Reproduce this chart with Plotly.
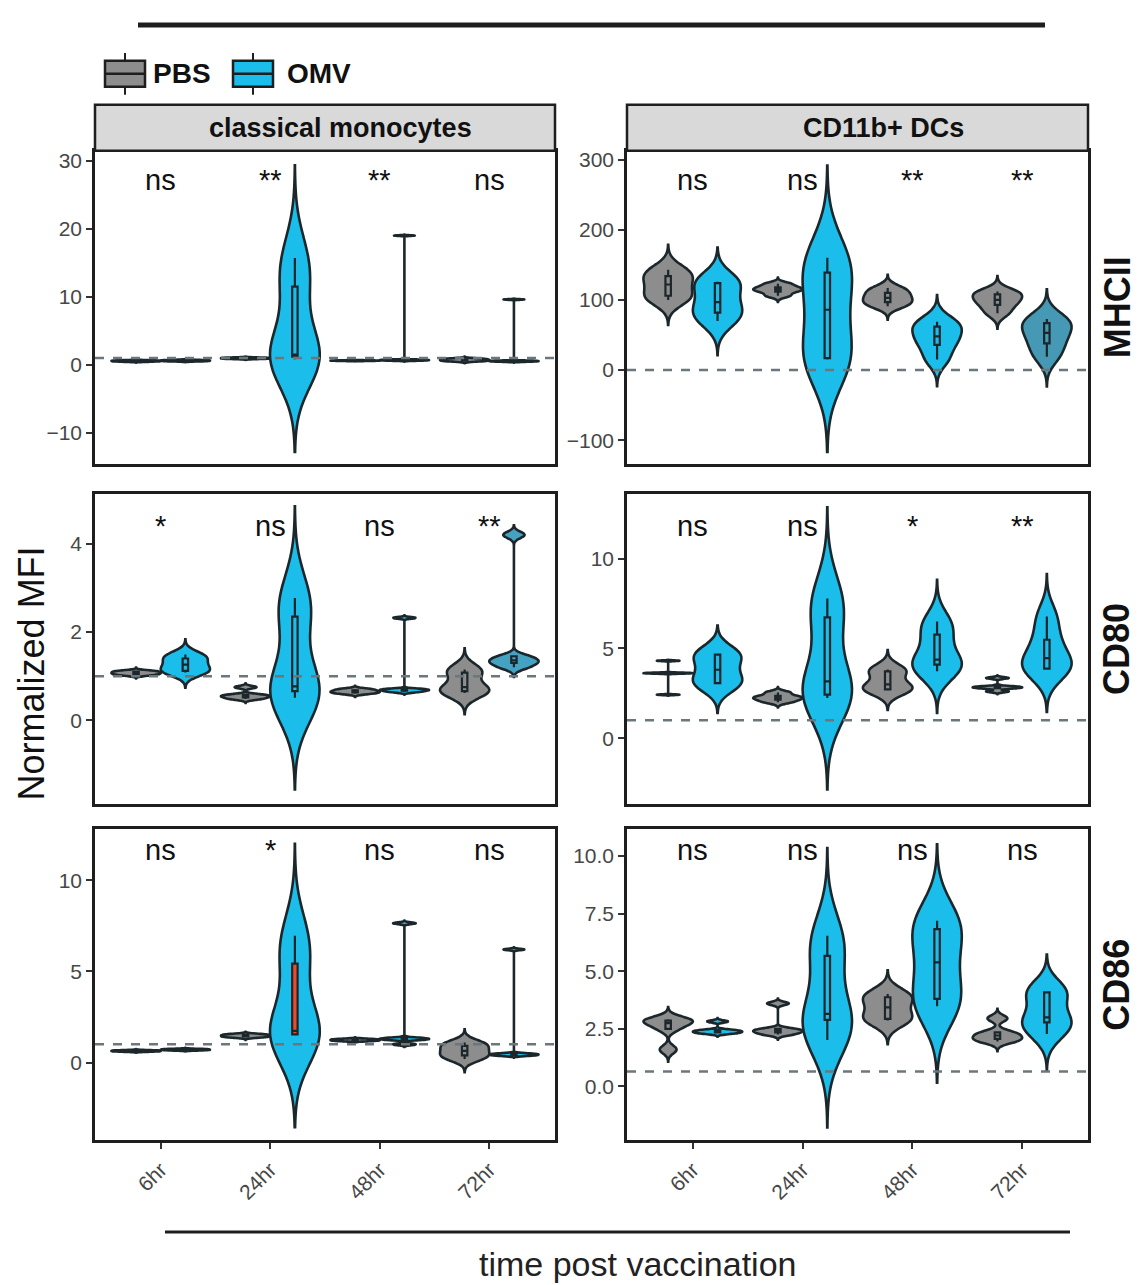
import numpy as np
import plotly.graph_objects as go

# ---------------- data ----------------
times = ["6hr", "24hr", "48hr", "72hr"]
groups = ["PBS", "OMV"]

# classical monocytes - MHCII
mono_mhcii_pbs = [[0.45, 0.50, 0.55, 0.60, 0.65], [0.85, 0.90, 0.95, 1.00, 1.05],
                  [0.55, 0.58, 0.60, 0.62, 0.65], [0.50, 0.60, 0.70, 0.80, 0.90]]
mono_mhcii_omv = [[0.50, 0.55, 0.60, 0.65, 0.70], [0.8, 1.2, 1.5, 11.5, 15.7],
                  [0.60, 0.65, 0.70, 0.75, 19.0], [0.45, 0.50, 0.55, 0.60, 9.6]]
# CD11b+ DCs - MHCII
dc_mhcii_pbs = [[100, 106, 122, 134, 143], [106, 112, 115, 118, 123],
                [91, 97, 103, 110, 117], [81, 93, 100, 108, 112]]
dc_mhcii_omv = [[70, 82, 97, 124, 126], [15, 17, 86, 139, 160],
                [15, 36, 48, 62, 69], [19, 38, 53, 67, 73]]
# classical monocytes - CD80
mono_cd80_pbs = [[1.02, 1.05, 1.07, 1.10, 1.12], [0.48, 0.52, 0.55, 0.58, 0.75],
                 [0.60, 0.63, 0.65, 0.68, 0.71], [0.62, 0.66, 0.75, 1.08, 1.15]]
mono_cd80_omv = [[1.08, 1.12, 1.26, 1.40, 1.49], [0.51, 0.66, 0.77, 2.35, 2.77],
                 [0.64, 0.67, 0.69, 0.71, 2.32], [1.20, 1.30, 1.36, 1.45, 4.20]]
# CD11b+ DCs - CD80
dc_cd80_pbs = [[2.42, 3.60, 3.62, 3.64, 4.31], [2.00, 2.15, 2.25, 2.35, 2.55],
               [2.65, 2.72, 3.00, 3.72, 3.82], [2.60, 2.78, 2.83, 2.88, 3.35]]
dc_cd80_omv = [[3.00, 3.07, 3.81, 4.65, 4.68], [2.23, 2.42, 3.16, 6.73, 7.77],
               [3.72, 4.09, 4.37, 5.76, 6.50], [3.81, 3.87, 4.46, 5.48, 6.78]]
# classical monocytes - CD86
mono_cd86_pbs = [[0.60, 0.62, 0.64, 0.66, 0.68], [1.38, 1.43, 1.47, 1.52, 1.56],
                 [1.18, 1.21, 1.24, 1.27, 1.30], [0.20, 0.40, 0.64, 0.92, 1.10]]
mono_cd86_omv = [[0.67, 0.69, 0.71, 0.73, 0.75], [1.50, 1.55, 1.74, 5.43, 6.95],
                 [1.00, 1.25, 1.30, 1.35, 7.64], [0.38, 0.42, 0.46, 0.50, 6.20]]
# CD11b+ DCs - CD86
dc_cd86_pbs = [[1.60, 2.50, 2.75, 2.86, 2.92], [2.25, 2.35, 2.42, 2.50, 3.60],
               [2.86, 2.93, 3.43, 3.87, 4.01], [1.95, 2.06, 2.21, 2.35, 2.95]]
dc_cd86_omv = [[2.30, 2.35, 2.40, 2.45, 2.82], [2.02, 2.89, 3.15, 5.67, 6.54],
               [3.48, 3.80, 5.38, 6.83, 7.19], [2.28, 2.78, 3.00, 4.08, 4.12]]

sig_mono_mhcii = ["ns", "**", "**", "ns"]
sig_dc_mhcii = ["ns", "ns", "**", "**"]
sig_mono_cd80 = ["*", "ns", "ns", "**"]
sig_dc_cd80 = ["ns", "ns", "*", "**"]
sig_mono_cd86 = ["ns", "*", "ns", "ns"]
sig_dc_cd86 = ["ns", "ns", "ns", "ns"]

ref_lines = [1, 0, 1, 1, 1, 0.65]

cell_types = ["classical monocytes", "CD11b+ DCs"]
markers = ["MHCII", "CD80", "CD86"]

# ---------------- layout helpers ----------------
W, H = 1142, 1285
def px(x): return x / W
def py(y): return 1 - y / H

FONT = "Liberation Sans, Arial, Helvetica, sans-serif"
PBS_FILL = "#8d8d8d"
OMV_FILL = "#1bbdea"
TEAL_FILL = "#4699b4"
OUTLINE = "#1c272c"
TICK_COL = "#474747"

col_px = [(95, 555), (627, 1088)]
row_px = [(148, 462), (492, 803), (828, 1140)]

panels = [
    dict(r=0, c=0, pbs=mono_mhcii_pbs, omv=mono_mhcii_omv, sig=sig_mono_mhcii, yr=[-14.6, 31.5], dt=10, fmt=""),
    dict(r=0, c=1, pbs=dc_mhcii_pbs, omv=dc_mhcii_omv, sig=sig_dc_mhcii, yr=[-133.7, 312.8], dt=100, fmt=""),
    dict(r=1, c=0, pbs=mono_cd80_pbs, omv=mono_cd80_omv, sig=sig_mono_cd80, yr=[-1.9, 5.13], dt=2, fmt=""),
    dict(r=1, c=1, pbs=dc_cd80_pbs, omv=dc_cd80_omv, sig=sig_dc_cd80, yr=[-3.67, 13.6], dt=5, fmt=""),
    dict(r=2, c=0, pbs=mono_cd86_pbs, omv=mono_cd86_omv, sig=sig_mono_cd86, yr=[-4.26, 12.8], dt=5, fmt=""),
    dict(r=2, c=1, pbs=dc_cd86_pbs, omv=dc_cd86_omv, sig=sig_dc_cd86, yr=[-2.34, 11.17], dt=2.5, fmt=".1f"),
]
# special fills seen in the picture: (panel, time index) -> fill
omv_fill_override = {(1, 3): TEAL_FILL, (2, 3): "#45a2c2"}
box_fill_override = {(4, 1): "#ef4a2a"}
sig_y_px = [177, 524, 849]


def nrd0(v):
    v = np.asarray(v, float)
    sd = v.std(ddof=1)
    q1, q3 = np.percentile(v, [25, 75])
    lo = min(sd, (q3 - q1) / 1.34)
    if lo <= 0:
        lo = sd
    return 0.9 * lo * len(v) ** -0.2


def label(x, y, text, size, **kw):
    d = dict(x=x, y=y, xref="paper", yref="paper", text=text, showarrow=False,
             xanchor="center", yanchor="middle",
             font=dict(family=FONT, size=size, color="#111"))
    d.update(kw)
    return d


fig = go.Figure()
annotations = []
shapes = []

for i, p in enumerate(panels):
    ax = "" if i == 0 else str(i + 1)
    xa, ya = "x" + ax, "y" + ax
    for gi, (gname, series) in enumerate([("PBS", p["pbs"]), ("OMV", p["omv"])]):
        for ti, vals in enumerate(series):
            bw = nrd0(vals)
            if gname == "PBS":
                fill = PBS_FILL
            else:
                fill = omv_fill_override.get((i, ti), OMV_FILL)
            bfill = box_fill_override.get((i, ti), fill) if gname == "OMV" else fill
            fig.add_trace(go.Violin(
                x=[times[ti]] * len(vals), y=vals, xaxis=xa, yaxis=ya,
                name=gname, offsetgroup=gname, alignmentgroup="a" + str(i),
                scalegroup="s%d_%s_%d" % (i, gname, ti),
                quartilemethod="inclusive",
                showlegend=False, fillcolor=fill,
                line=dict(color=OUTLINE, width=2.6),
                bandwidth=bw, spanmode="manual",
                span=[min(vals) - 3 * bw, max(vals) + 3 * bw],
                points=False, scalemode="width",
                box=dict(visible=True, width=0.11, fillcolor=bfill,
                         line=dict(color=OUTLINE, width=2.2)),
                meanline=dict(visible=False), hoverinfo="skip",
            ))
    x0, x1 = col_px[p["c"]]
    y0, y1 = row_px[p["r"]]
    bottom = p["r"] == 2
    fig.layout["xaxis" + ax] = dict(
        domain=[px(x0), px(x1)], anchor=ya, type="category",
        categoryorder="array", categoryarray=times, range=[-0.6, 3.6],
        showline=True, mirror=True, linecolor="#1e1e1e", linewidth=2.5,
        showgrid=False, zeroline=False,
        ticks="outside" if bottom else "", ticklen=6, tickwidth=2, tickcolor="#333",
        showticklabels=bottom, tickangle=-45,
        tickfont=dict(family=FONT, size=21, color=TICK_COL),
    )
    fig.layout["yaxis" + ax] = dict(
        domain=[py(y1), py(y0)], anchor=xa, range=p["yr"], dtick=p["dt"], tick0=0,
        tickformat=p["fmt"],
        showline=True, mirror=True, linecolor="#1e1e1e", linewidth=2.5,
        showgrid=False, zeroline=False,
        ticks="outside", ticklen=6, tickwidth=2, tickcolor="#333",
        tickfont=dict(family=FONT, size=21, color=TICK_COL),
    )
    # dashed reference line
    shapes.append(dict(type="line", xref=xa + " domain", yref=ya, x0=0, x1=1,
                       y0=ref_lines[i], y1=ref_lines[i], layer="above",
                       line=dict(color="#6b777c", width=2.5, dash="dash")))
    # significance labels
    for ti, s in enumerate(p["sig"]):
        annotations.append(dict(x=times[ti], y=py(sig_y_px[p["r"]]), xref=xa, yref="paper",
                                text=s, showarrow=False, xanchor="center", yanchor="middle",
                                font=dict(family=FONT, size=29, color="#111")))

# strips (top row)
strip_text_x = [340, 883]
for c, (x0, x1) in enumerate(col_px):
    shapes.append(dict(type="rect", xref="paper", yref="paper",
                       x0=px(x0), x1=px(x1), y0=py(148), y1=py(102),
                       fillcolor="#d9d9d9", line=dict(color="#1e1e1e", width=2.5)))
    annotations.append(label(px(strip_text_x[c]), py(125), "<b>" + cell_types[c] + "</b>", 27))

# right-side marker labels
for r, m in enumerate(markers):
    yc = (row_px[r][0] + row_px[r][1]) / 2
    annotations.append(label(px(1117), py(yc), "<b>" + m + "</b>", 36, textangle=-90))

# axis titles
annotations.append(label(px(31), py(672), "Normalized MFI", 36, textangle=-90))
annotations.append(label(px(638), py(1264), "time post vaccination", 34,
                         font=dict(family=FONT, size=34, color="#222")))

# decorative rules
shapes.append(dict(type="line", xref="paper", yref="paper", x0=px(138), x1=px(1045),
                   y0=py(22), y1=py(22), line=dict(color="#1e1e1e", width=5)))
shapes.append(dict(type="line", xref="paper", yref="paper", x0=px(165), x1=px(1070),
                   y0=py(1232), y1=py(1232), line=dict(color="#1e1e1e", width=3)))

# legend (drawn keys)
for gx, fill, lab, tx in [(105, PBS_FILL, "PBS", 151), (233, OMV_FILL, "OMV", 285)]:
    shapes.append(dict(type="rect", xref="paper", yref="paper", x0=px(gx), x1=px(gx + 40),
                       y0=py(84), y1=py(58), fillcolor=fill, line=dict(color="#1e1e1e", width=2.5)))
    shapes.append(dict(type="line", xref="paper", yref="paper", x0=px(gx), x1=px(gx + 40),
                       y0=py(71), y1=py(71), line=dict(color="#1e1e1e", width=2.5)))
    shapes.append(dict(type="line", xref="paper", yref="paper", x0=px(gx + 20), x1=px(gx + 20),
                       y0=py(58), y1=py(50), line=dict(color="#1e1e1e", width=2)))
    shapes.append(dict(type="line", xref="paper", yref="paper", x0=px(gx + 20), x1=px(gx + 20),
                       y0=py(84), y1=py(92), line=dict(color="#1e1e1e", width=2)))
    annotations.append(label(px(tx), py(71), "<b>" + lab + "</b>", 28, xanchor="left"))

fig.update_layout(
    width=W, height=H, margin=dict(l=0, r=0, t=0, b=0),
    paper_bgcolor="white", plot_bgcolor="white",
    violinmode="group", violingap=0.1, violingroupgap=0,
    showlegend=False, shapes=shapes, annotations=annotations,
    font=dict(family=FONT),
)

fig.write_html("out.html", config={"displayModeBar": False},
               post_script="document.body.style.margin='0px';")
